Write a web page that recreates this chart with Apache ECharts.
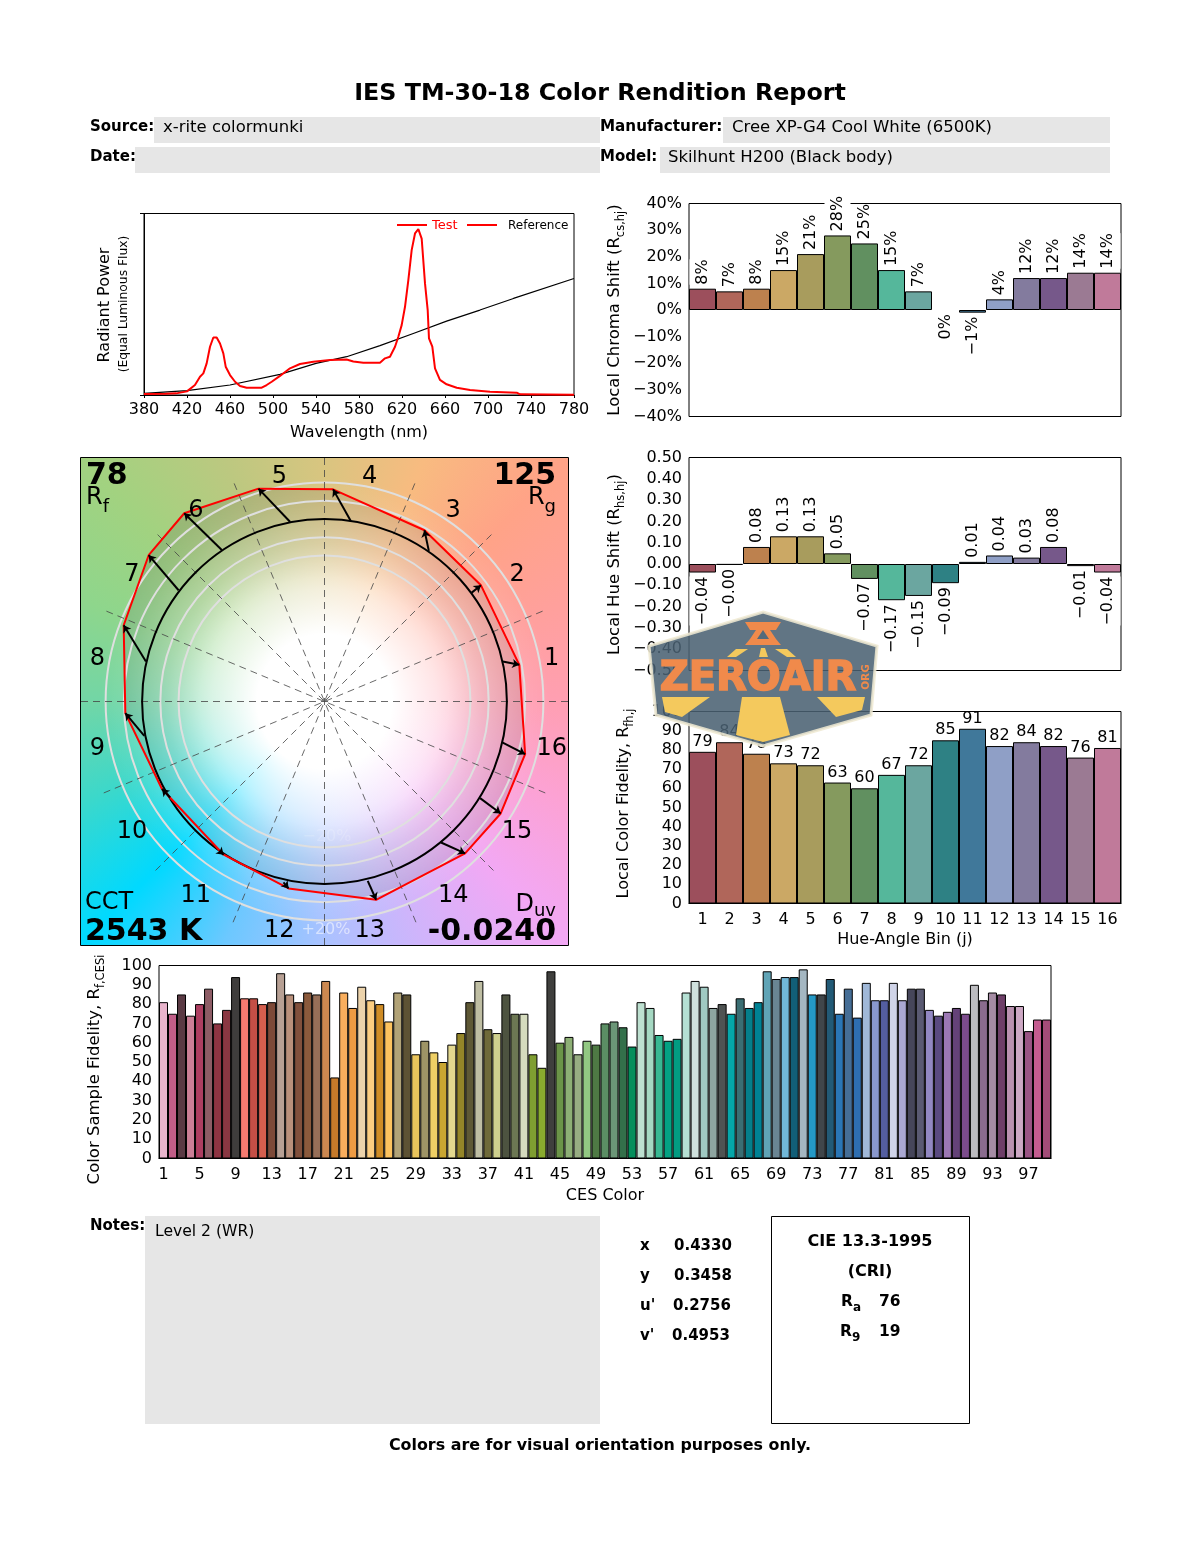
<!DOCTYPE html>
<html><head><meta charset="utf-8">
<style>html,body{margin:0;padding:0;background:#fff}#c{width:1200px;height:1550px}</style>
<script src="https://cdn.jsdelivr.net/npm/echarts@6/dist/echarts.min.js"></script>
</head><body><div id="c"></div>
<script>
const FONT='"DejaVu Sans"';
// ---- spectrum
const testWl=[380,400,410,420,427.4,432.1,435.2,438.3,441.4,444.5,447.6,450.7,453.8,456,460,464.7,469.3,475.5,489.5,494.1,498.8,506.5,515.8,525.1,537.5,553,568.5,574.7,584,599.5,604.2,608.8,613.5,616.6,619.7,622.8,625.9,629,632.1,635.2,638.3,641.4,643.9,645.1,648.2,650.7,655.3,661.5,670.9,683.3,701.9,726.7,729.8,780];
const testPower=[.006,.007,.009,.02,.055,.101,.119,.174,.266,.317,.317,.284,.229,.156,.11,.073,.05,.04,.04,.055,.073,.105,.147,.171,.183,.193,.196,.185,.178,.178,.202,.211,.266,.321,.385,.486,.633,.798,.89,.914,.862,.615,.468,.312,.266,.147,.083,.059,.04,.028,.018,.013,.004,.002];
const refWl=[380,420,460,506.5,540,568.5,599.5,630.5,661.5,692.5,723.7,780];
const refPower=[.009,.024,.055,.114,.174,.211,.272,.339,.407,.468,.532,.642];
const wlTicksMin=380,wlTicksMax=780;
// ---- hue bins
const binLabels=['1','2','3','4','5','6','7','8','9','10','11','12','13','14','15','16'];
const binColors=['#9c4f5c','#b0665a','#bd814e','#cba865','#a89c5d','#859a5e','#619060','#55b79b','#6ba6a0','#2e8184','#40789a','#8f9fc6','#837b9e','#76588a','#9b7a93','#c07a9a'];
const chromaShift=[8,7,8,15,21,28,25,15,7,0,-1,4,12,12,14,14];
const hueShift=[-0.04,-0.004,0.08,0.13,0.13,0.05,-0.07,-0.17,-0.15,-0.09,0.01,0.04,0.03,0.08,-0.01,-0.04];
const localFidelity=[79,84,78,73,72,63,60,67,72,85,91,82,84,82,76,81];
// ---- CES
const cesValues=[81,75,85,74,80,88,70,77,94,83,83,80,81,96,85,81,86,85,92,42,86,78,89,82,80,71,86,85,54,61,55,50,59,65,81,92,67,65,85,75,75,54,47,97,60,63,54,61,59,70,71,68,58,81,78,64,61,62,86,92,89,78,80,75,83,78,81,97,93,94,94,98,85,85,93,75,88,73,91,82,82,91,82,88,88,77,74,76,78,75,90,82,86,85,79,79,66,72,72];
const cesColors=['#e8b4cc','#c15e88','#5a3a44','#cc7f97','#ad3e61','#8d5c65','#8e3442','#8a3742','#3f3d3c','#f57b70','#c44f46','#d55f4e','#7d4a38','#b7a094','#b9907b','#81503c','#8b5a3c','#976f58','#cc8850','#c67a2a','#f9ae5d','#ee9b43','#ecd3ab','#fccd80','#cf8c25','#fdc35f','#b2a377','#5d5234','#e9c45c','#9e9466','#eecf65','#c9a631','#e3d88f','#948528','#5e5835','#bfbea3','#6f6a39','#cfd08e','#4d5340','#6c7753','#d5dbbe','#7f9e31','#89ab2e','#3f3f3d','#6b9448','#8daf75','#97ad82','#92c882','#4e7a44','#5b8e64','#6b9677','#33704a','#058f5c','#bde0d0','#a5d8c2','#38b892','#04a283','#029c82','#b5e0d4','#cfe0dc','#a0c9c2','#8ea5a0','#4f5352','#05a7a9','#3a6e73','#047f8b','#008294','#60a4b6','#6a8593','#71b7d7','#125f78','#a4b7c2','#2499c6','#40464a','#225a76','#2a76b5','#456e96','#2e6eb0','#a0b8d8','#8a98cd','#545ea0','#d0d4e8','#aaa8d2','#46465a','#5a5a72','#9288c2','#5a4a80','#9c78b4','#644278','#7c4c8c','#bcbcc0','#8a6c8e','#a58ca4','#6e3f68','#ba92b0','#cda8c4','#9a5484','#c45c90','#a44c78'];
// ---- colour vector graphic
const headX=[1.068,.858,.548,.047,-.362,-.769,-.964,-1.101,-1.092,-.891,-.553,-.197,.283,.771,.966,1.100];
const headY=[.201,.637,.939,1.163,1.167,1.032,.802,.418,-.064,-.480,-.840,-1.025,-1.087,-.833,-.614,-.289];
const tailX=[.977,.807,.572,.144,-.188,-.563,-.800,-.979,-.988,-.846,-.577,-.225,.237,.639,.853,.977];
const tailY=[.219,.597,.826,.990,.984,.831,.610,.219,-.188,-.526,-.818,-.992,-.983,-.773,-.530,-.225];
const ringRadii=[.8,.9,1.1,1.2];
const spokeAngles=[0,22.5,45,67.5,90,112.5,135,157.5];

const VMAX=1.335, VX=81, VY=458, VS=487;
function hueCanvas(){
  const cv=document.createElement('canvas');cv.width=cv.height=VS;
  const g=cv.getContext('2d'),c=VS/2;
  const stops=[[0,'#ff9fb2'],[22.5,'#ffa09c'],[45,'#ffa387'],[67.5,'#f8bb80'],[90,'#d9c580'],[112.5,'#bcc880'],[135,'#a2d280'],[157.5,'#8ed68c'],[180,'#72d6a6'],[202.5,'#3cd8ca'],[225,'#00d9ff'],[247.5,'#6cc8ff'],[270,'#aac2ff'],[292.5,'#d0b4fb'],[315,'#f2a8f4'],[337.5,'#fca2d4'],[360,'#ff9fb2']];
  const cg2=g.createConicGradient(0,c,c);
  stops.slice().reverse().forEach(s=>cg2.addColorStop((360-s[0])/360,s[1]));
  g.fillStyle=cg2;g.fillRect(0,0,VS,VS);
  const rg=g.createRadialGradient(c,c,0,c,c,225);
  rg.addColorStop(0,'rgba(255,255,255,1)');rg.addColorStop(.3,'rgba(255,255,255,1)');
  rg.addColorStop(.5,'rgba(255,255,255,.72)');rg.addColorStop(.7,'rgba(255,255,255,.32)');rg.addColorStop(.88,'rgba(255,255,255,.08)');rg.addColorStop(1,'rgba(255,255,255,0)');
  g.fillStyle=rg;g.fillRect(0,0,VS,VS);
  return cv;
}
const T=(x,y,text,o={})=>({type:'text',x,y:o.rot?y:y+1.5,z:o.z||5,rotation:o.rot||0,silent:true,style:Object.assign({text,fontFamily:FONT,fontSize:o.size||15,fontWeight:o.bold?'bold':'normal',fill:o.fill||'#000',textAlign:o.align||'left',textVerticalAlign:'middle'},o.rich?{rich:o.rich}:{},o.stroke?{stroke:o.stroke,lineWidth:o.sw||1}:{})});
const R=(x,y,w,h,fill,stroke,z)=>({type:'rect',z:z||0,silent:true,shape:{x,y,width:w,height:h},style:{fill:fill||'none',stroke:stroke||'none',lineWidth:1}});
const P=(pts,fill,z)=>({type:'polygon',z:z||1000,silent:true,shape:{points:pts},style:{fill}});
const L=(x1,x2,y,stroke)=>({type:'line',z:5,silent:true,shape:{x1,y1:y,x2,y2:y},style:{stroke,lineWidth:2}});
const subRich=(size,sub,pad)=>({m:{fontFamily:FONT,fontSize:size,fill:'#000'},s:{fontFamily:FONT,fontSize:sub,fill:'#000',verticalAlign:'bottom',padding:[pad||Math.round(size*.8),0,0,0]}});
const boldSub={m:{fontFamily:FONT,fontSize:15.5,fontWeight:'bold'},s:{fontFamily:FONT,fontSize:12,fontWeight:'bold',verticalAlign:'bottom',padding:[12,0,0,0]}};
const REG=16.5;
const graphics=[
  {type:'image',z:-1,silent:true,x:VX,y:VY,style:{image:hueCanvas(),x:0,y:0,width:VS,height:VS}},
  R(VX-.5,VY-.5,VS+1,VS+1,null,'#000',6),
  T(600,92.5,'IES TM-30-18 Color Rendition Report',{size:23.8,bold:true,align:'center'}),
  R(154,117,446,26,'#e6e6e6'),R(723,117,387,26,'#e6e6e6'),R(135,147,465,26,'#e6e6e6'),R(660,147,450,26,'#e6e6e6'),
  T(90,126,'Source:',{bold:true}),T(163,126,'x-rite colormunki',{size:REG}),
  T(600,126,'Manufacturer:',{bold:true,size:15.2}),T(732,126,'Cree XP-G4 Cool White (6500K)',{size:REG}),
  T(90,156,'Date:',{bold:true}),
  T(600,156,'Model:',{bold:true}),T(668,156,'Skilhunt H200 (Black body)',{size:REG}),
  T(105,305,'Radiant Power',{size:16,rot:Math.PI/2,align:'center'}),
  T(124,304,'(Equal Luminous Flux)',{size:12.3,rot:Math.PI/2,align:'center'}),
  L(397,427,225,'#ff0000'),T(432,224,'Test',{size:13,fill:'#ff0000'}),
  L(467,497,225,'#ff0000'),T(508,224,'Reference',{size:12}),
  T(614.5,310,'{m|Local Chroma Shift (R}{s|cs,hj}{m|)}',{rot:Math.PI/2,align:'center',rich:subRich(16.5,11.5)}),
  T(614.5,564.5,'{m|Local Hue Shift (R}{s|hs,hj}{m|)}',{rot:Math.PI/2,align:'center',rich:subRich(16.5,11.5)}),
  T(624,803.5,'{m|Local Color Fidelity, R}{s|fh,j}',{rot:Math.PI/2,align:'center',rich:subRich(16,11.5)}),
  T(95,1069.5,'{m|Color Sample Fidelity, R}{s|f,CESi}',{rot:Math.PI/2,align:'center',rich:subRich(16.5,11.5)}),
  T(86,475,'78',{size:30,bold:true}),T(86,496,'{m|R}{s|f}',{rich:subRich(24,18)}),
  T(556,475,'125',{size:30,bold:true,align:'right'}),T(556,496,'{m|R}{s|g}',{align:'right',rich:subRich(24,18)}),
  T(85,901.5,'CCT',{size:24}),T(85,930.5,'2543 K',{size:30,bold:true}),
  T(556,903,'{m|D}{s|uv}',{align:'right',rich:subRich(24,18,13)}),T(556,930.5,'-0.0240',{size:30,bold:true,align:'right'}),
  T(326,928.5,'+20%',{size:16,fill:'rgba(255,255,255,.55)',align:'center'}),
  T(327,835.5,'−20%',{size:16,fill:'rgba(255,255,255,.18)',align:'center'}),
  T(90,1225,'Notes:',{bold:true}),R(145,1216,455,208,'#e6e6e6'),T(155,1230,'Level 2 (WR)',{size:15.6}),
  T(640,1245,'x',{bold:true}),T(674,1245,'0.4330',{bold:true}),
  T(640,1275,'y',{bold:true}),T(674,1275,'0.3458',{bold:true}),
  T(640,1305,"u'",{bold:true}),T(673,1305,'0.2756',{bold:true}),
  T(640,1335,"v'",{bold:true}),T(672,1335,'0.4953',{bold:true}),
  R(771.5,1216.5,198,207,null,'#000'),
  T(870,1240,'CIE 13.3-1995',{bold:true,size:16,align:'center'}),T(870,1270,'(CRI)',{bold:true,size:16,align:'center'}),
  T(841,1300,'{m|R}{s|a}',{rich:boldSub}),T(879,1300,'76',{bold:true,size:15.5}),
  T(840,1330,'{m|R}{s|9}',{rich:boldSub}),T(879,1330,'19',{bold:true,size:15.5}),
  T(600,1444,'Colors are for visual orientation purposes only.',{bold:true,size:15.9,align:'center'}),
  // watermark
  {type:'polygon',z:1000,silent:true,shape:{points:[[763,612],[877,646],[871,715],[763,746],[656,715],[649,646]]},style:{fill:'#4a6172',opacity:.87,stroke:'#efe9d2',lineWidth:3}},
  P([[745,622],[781,622],[776,630],[770,630],[776,639],[781,645],[745,645],[750,639],[756,630],[750,630]],'#f08a4b',1002),
  P([[763,630],[769,639],[757,639]],'#546a7b',1003),
  P([[736,649],[748,649],[736,657],[727,657]],'#f4c95d',1002),
  P([[761,648],[765,648],[768,657],[759,657]],'#f4c95d',1002),
  P([[775,649],[787,649],[796,657],[787,657]],'#f4c95d',1002),
  T(758,678,'ZEROAIR',{size:40,bold:true,fill:'#f08a4b',align:'center',z:1004,stroke:'#f08a4b',sw:1.5}),
  T(866,677,'ORG',{size:10.5,bold:true,fill:'#f08a4b',align:'center',rot:Math.PI/2,z:1004}),
  P([[662,697],[710,697],[682,717],[665,712]],'#f4c95d',1002),
  P([[742,697],[780,697],[790,735],[763,742],[736,735]],'#f4c95d',1002),
  P([[817,697],[865,697],[862,710],[836,717]],'#f4c95d',1002)
];

const barLabel=(fmt)=>({show:true,fontFamily:FONT,fontSize:16,color:'#000',rotate:90,distance:4,verticalAlign:'middle',backgroundColor:'#fff',padding:[5,0,5,0],
  formatter:p=>fmt(p.value)});
const sideLabel=(v)=>v>0?{position:'top',align:'left'}:{position:'bottom',align:'right'};
const axisTick={length:4,lineStyle:{color:'#000'}};
const axisLine={lineStyle:{color:'#000',width:1}};
const axisText={fontFamily:FONT,fontSize:16,color:'#000',margin:7};
const colorFn=arr=>p=>arr[p.dataIndex];
const pctFmt=v=>(v<0?'−':'')+Math.abs(v)+'%';
const hueFmt=v=>(v<0?'−':'')+Math.abs(v).toFixed(2);

const grids=[
 {left:144,top:213.5,width:430,height:181.5,show:true,borderColor:'#000',borderWidth:1,backgroundColor:'transparent'},
 {left:689,top:203.5,width:432,height:213,show:true,borderColor:'#000',borderWidth:1,backgroundColor:'transparent'},
 {left:689,top:457.5,width:432,height:213,show:true,borderColor:'#000',borderWidth:1,backgroundColor:'transparent'},
 {left:689,top:711.5,width:432,height:192,show:true,borderColor:'#000',borderWidth:1,backgroundColor:'transparent'},
 {left:159,top:965.5,width:892,height:193,show:true,borderColor:'#000',borderWidth:1,backgroundColor:'transparent'},
 {left:VX,top:VY,width:VS,height:VS,show:false}
];
const nameStyle={fontFamily:FONT,fontSize:16,color:'#000'};
const catHidden=gi=>({type:'category',gridIndex:gi,data:binLabels,axisTick:{show:false},axisLine:{show:false},axisLabel:{show:false}});

const xAxes=[
 {type:'value',gridIndex:0,min:wlTicksMin,max:wlTicksMax,interval:40,splitLine:{show:false},axisLine,axisTick:{length:3,lineStyle:{color:'#000'}},axisLabel:axisText,name:'Wavelength (nm)',nameLocation:'middle',nameGap:30,nameTextStyle:nameStyle},
 catHidden(1),catHidden(2),
 {type:'category',gridIndex:3,data:binLabels,axisTick:{show:false},axisLine,axisLabel:Object.assign({},axisText,{margin:8}),name:'Hue-Angle Bin (j)',nameLocation:'middle',nameGap:28,nameTextStyle:nameStyle},
 {type:'category',gridIndex:4,data:cesValues.map((_,i)=>String(i+1)),axisTick:{show:false},axisLine,axisLabel:Object.assign({},axisText,{interval:3,margin:8}),name:'CES Color',nameLocation:'middle',nameGap:29,nameTextStyle:nameStyle},
 {type:'value',gridIndex:5,min:-VMAX,max:VMAX,show:false}
];
const yAxes=[
 {type:'value',gridIndex:0,min:0,max:1,interval:1,splitLine:{show:false},axisLine,axisTick,axisLabel:{show:false}},
 {type:'value',gridIndex:1,min:-40,max:40,interval:10,splitLine:{show:false},axisLine,axisTick,axisLabel:Object.assign({},axisText,{formatter:pctFmt})},
 {type:'value',gridIndex:2,min:-0.5,max:0.5,interval:0.1,splitLine:{show:false},axisLine,axisTick,axisLabel:Object.assign({},axisText,{formatter:hueFmt})},
 {type:'value',gridIndex:3,min:0,max:100,interval:10,splitLine:{show:false},axisLine,axisTick,axisLabel:axisText},
 {type:'value',gridIndex:4,min:0,max:100,interval:10,splitLine:{show:false},axisLine,axisTick,axisLabel:axisText},
 {type:'value',gridIndex:5,min:-VMAX,max:VMAX,show:false}
];
const barItem=arr=>({color:colorFn(arr),borderColor:'#000',borderWidth:1});
const rotBar=(gi,vals,fmt)=>({type:'bar',xAxisIndex:gi,yAxisIndex:gi,barWidth:'100%',silent:true,itemStyle:barItem(binColors),
  data:vals.map(v=>({value:v,itemStyle:v===0?{borderWidth:0}:undefined,label:Object.assign(barLabel(fmt),sideLabel(v))}))});
const series=[
 {type:'line',xAxisIndex:0,yAxisIndex:0,showSymbol:false,silent:true,lineStyle:{color:'#000',width:1.2},data:refWl.map((w,i)=>[w,refPower[i]]),z:3},
 {type:'line',xAxisIndex:0,yAxisIndex:0,showSymbol:false,silent:true,lineStyle:{color:'#ff0000',width:2},data:testWl.map((w,i)=>[w,testPower[i]]),z:4},
 rotBar(1,chromaShift,pctFmt),
 rotBar(2,hueShift,hueFmt),
 {type:'bar',xAxisIndex:3,yAxisIndex:3,barWidth:'100%',silent:true,itemStyle:barItem(binColors),data:localFidelity,
  label:{show:true,position:'top',distance:2,fontFamily:FONT,fontSize:16,color:'#000'}},
 {type:'bar',xAxisIndex:4,yAxisIndex:4,barWidth:'100%',silent:true,itemStyle:barItem(cesColors),data:cesValues},
 {type:'custom',xAxisIndex:5,yAxisIndex:5,silent:true,z:1,data:[0],renderItem:(p,api)=>{
   const c=api.coord([0,0]);
   return {type:'polygon',shape:{points:headX.map((x,i)=>api.coord([x,headY[i]]))},style:{fill:{type:'radial',x:c[0],y:c[1],r:225,global:true,colorStops:[{offset:0,color:'rgba(70,70,70,0)'},{offset:.55,color:'rgba(70,70,70,0)'},{offset:.8,color:'rgba(70,70,70,.1)'},{offset:1,color:'rgba(70,70,70,.17)'}]}}};
 }},
 {type:'custom',xAxisIndex:5,yAxisIndex:5,silent:true,z:2,data:ringRadii,renderItem:(p,api)=>{
   const c=api.coord([0,0]);return {type:'circle',shape:{cx:c[0],cy:c[1],r:api.size([api.value(0),0])[0]},style:{fill:'none',stroke:'#dfdfdf',lineWidth:2}};
 },encode:{x:0}},
 {type:'custom',xAxisIndex:5,yAxisIndex:5,silent:true,z:2,data:spokeAngles,renderItem:(p,api)=>{
   const a=api.value(0)*Math.PI/180,r=(api.value(0)%90===0)?VMAX:1.31;
   const s=api.coord([-r*Math.cos(a),-r*Math.sin(a)]),e=api.coord([r*Math.cos(a),r*Math.sin(a)]);
   return {type:'line',shape:{x1:s[0],y1:s[1],x2:e[0],y2:e[1]},style:{stroke:'#444',lineWidth:.8,lineDash:[7,5]}};
 }},
 {type:'custom',xAxisIndex:5,yAxisIndex:5,silent:true,z:3,data:[1],renderItem:(p,api)=>{
   const c=api.coord([0,0]);return {type:'circle',shape:{cx:c[0],cy:c[1],r:api.size([api.value(0),0])[0]},style:{fill:'none',stroke:'#000',lineWidth:2}};
 }},
 {type:'line',xAxisIndex:5,yAxisIndex:5,showSymbol:false,silent:true,z:4,lineStyle:{color:'#ff0000',width:2},
  data:headX.concat(headX[0]).map((x,i)=>[x,headY.concat(headY[0])[i]])},
 {type:'lines',coordinateSystem:'cartesian2d',xAxisIndex:5,yAxisIndex:5,silent:true,z:5,symbol:['none','arrow'],symbolSize:7,lineStyle:{color:'#000',width:2,opacity:1,curveness:0},
  data:headX.map((x,i)=>({coords:[[tailX[i],tailY[i]],[x,headY[i]]]}))},
 {type:'scatter',xAxisIndex:5,yAxisIndex:5,silent:true,z:6,symbolSize:1,itemStyle:{opacity:0},
  data:binLabels.map((b,i)=>{const a=(11.25+22.5*i)*Math.PI/180;return {value:[1.27*Math.cos(a),1.27*Math.sin(a)],label:{show:true,position:'inside',offset:[0,2],formatter:b,fontFamily:FONT,fontSize:24,color:'#000',opacity:1}};})}
];
const chart=echarts.init(document.getElementById('c'),null,{renderer:'canvas',width:1200,height:1550});
chart.setOption({animation:false,backgroundColor:'#fff',grid:grids,xAxis:xAxes,yAxis:yAxes,series,graphic:{elements:graphics}});
</script></body></html>
